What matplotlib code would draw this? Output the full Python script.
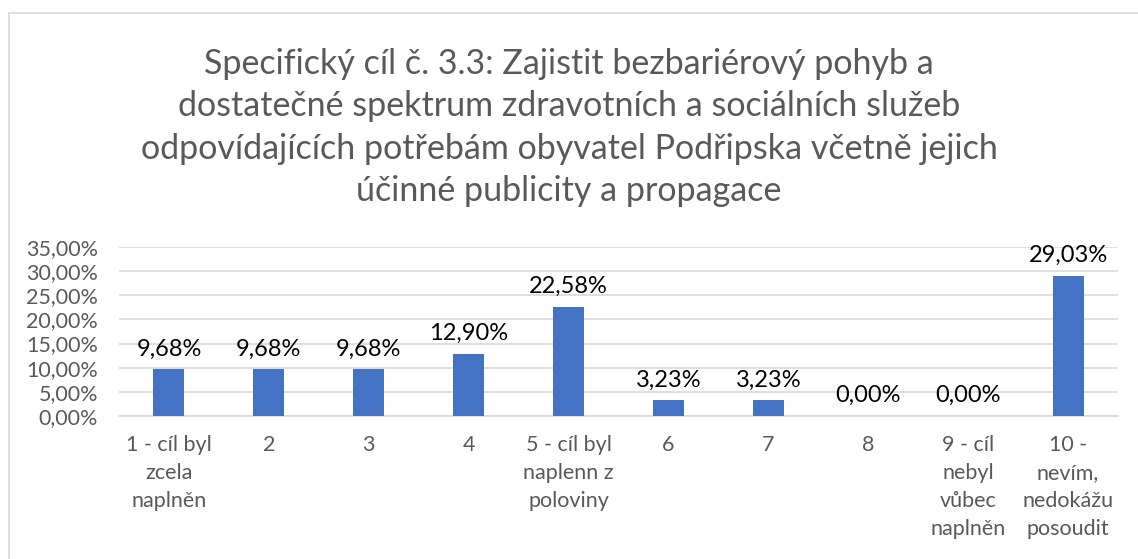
import matplotlib.pyplot as plt
from matplotlib.lines import Line2D

# Data
categories = ['1 - cíl byl\nzcela\nnaplněn', '2', '3', '4', '5 - cíl byl\nnaplenn z\npoloviny',
              '6', '7', '8', '9 - cíl\nnebyl\nvůbec\nnaplněn', '10 -\nnevím,\nnedokážu\nposoudit']
values = [9.68, 9.68, 9.68, 12.90, 22.58, 3.23, 3.23, 0.00, 0.00, 29.03]
yticks = [0, 5, 10, 15, 20, 25, 30, 35]
title = ('Specifický cíl č. 3.3: Zajistit bezbariérový pohyb a\n'
         'dostatečné spektrum zdravotních a sociálních služeb\n'
         'odpovídajících potřebám obyvatel Podřipska včetně jejich\n'
         'účinné publicity a propagace')

plt.rcParams['font.family'] = ['Lato', 'DejaVu Sans']

W, H = 1138, 559
fig = plt.figure(figsize=(W / 100, H / 100), dpi=100)
ax = fig.add_axes([119 / W, 1 - 416 / H, (1118 - 119) / W, (416 - 247) / H])

x = range(len(values))
ax.bar(x, values, width=0.31, color='#4472C4', zorder=3)
ax.set_xlim(-0.5, len(values) - 0.5)
ax.set_ylim(0, 35)

ax.set_yticks(yticks)
ax.set_yticklabels([('%.2f%%' % v).replace('.', ',') for v in yticks])
ax.set_xticks(list(x))
ax.set_xticklabels(categories, linespacing=1.5)
ax.tick_params(axis='both', length=0, labelsize=15.5, colors='#595959')
ax.tick_params(axis='x', pad=14)
ax.tick_params(axis='y', pad=15)

ax.yaxis.grid(True, color='#D9D9D9', linewidth=1.2, zorder=0)
for s in ['top', 'right', 'left']:
    ax.spines[s].set_visible(False)
ax.spines['bottom'].set_color('#D9D9D9')
ax.spines['bottom'].set_linewidth(1.2)

# Data labels
for xi, v in zip(x, values):
    ax.annotate(('%.2f%%' % v).replace('.', ','), (xi, v), xytext=(0, 7),
                textcoords='offset points', ha='center', va='bottom',
                fontsize=17, color='#000000')

fig.text(0.5, 1 - 48 / H, title, ha='center', va='top', fontsize=24.5,
         color='#595959', linespacing=1.4)

# Chart border (partly cropped)
fig.add_artist(Line2D([8.5 / W, 8.5 / W], [0, 1 - 12.5 / H], color='#D9D9D9', lw=1.2))
fig.add_artist(Line2D([8.5 / W, 1], [1 - 12.5 / H, 1 - 12.5 / H], color='#D9D9D9', lw=1.2))

fig.savefig('out.png', dpi=100)
